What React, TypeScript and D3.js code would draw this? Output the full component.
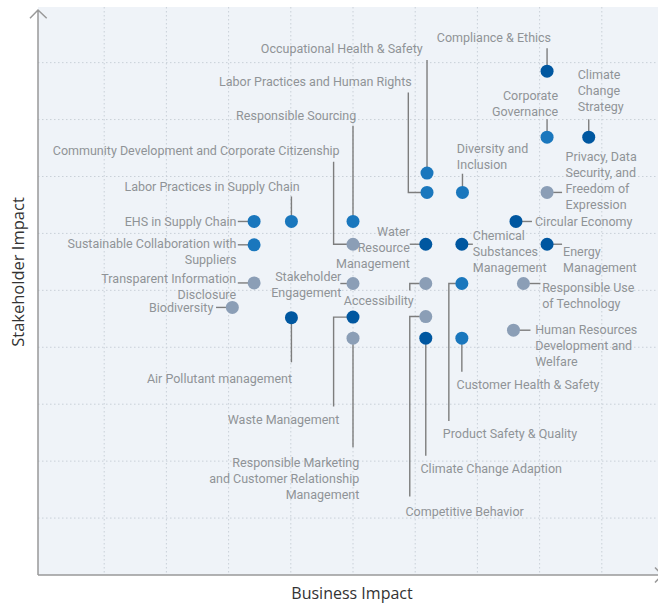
import React from 'react';
import * as d3 from 'd3';

// material topics
const topics = [
  'Compliance & Ethics', 'Climate Change Strategy', 'Corporate Governance',
  'Privacy, Data Security, and Freedom of Expression', 'Diversity and Inclusion',
  'Occupational Health & Safety', 'Labor Practices and Human Rights', 'Responsible Sourcing',
  'Community Development and Corporate Citizenship', 'Labor Practices in Supply Chain',
  'EHS in Supply Chain', 'Sustainable Collaboration with Suppliers',
  'Transparent Information Disclosure', 'Biodiversity', 'Air Pollutant management',
  'Stakeholder Engagement', 'Water Resource Management', 'Chemical Substances Management',
  'Circular Economy', 'Energy Management', 'Responsible Use of Technology',
  'Human Resources Development and Welfare', 'Accessibility', 'Product Safety & Quality',
  'Waste Management', 'Competitive Behavior',
  'Responsible Marketing and Customer Relationship Management',
  'Climate Change Adaption', 'Customer Health & Safety',
]
const businessImpact = [
  8.12, 8.79, 8.12, 8.12, 6.76, 6.19, 6.19, 5.0, 5.0, 4.01,
  3.41, 3.41, 3.41, 3.06, 4.01, 5.0, 6.17, 6.75, 7.62, 8.12,
  7.74, 7.58, 6.17, 6.75, 5.0, 6.17, 5.0, 6.17, 6.75,
]
const stakeholderImpact = [
  8.85, 7.69, 7.69, 6.72, 6.72, 7.06, 6.72, 6.21, 5.81, 6.21,
  6.21, 5.80, 5.13, 4.70, 4.52, 5.12, 5.81, 5.81, 6.21, 5.81,
  5.12, 4.30, 5.12, 5.12, 4.53, 4.54, 4.16, 4.16, 4.16,
]
// 0 = dark blue, 1 = blue, 2 = grey
const tier = [
  0, 0, 1, 2, 1, 1, 1, 1, 2, 1,
  1, 1, 2, 2, 0, 2, 0, 0, 0, 0,
  2, 2, 2, 1, 0, 2, 2, 0, 1,
]

const tierColors = ['#0057a0', '#1a77bd', '#8b9eb6']

// label placement, offsets from the dot in px
type Layout = { lines: string[]; anchor: string; dx: number; dy: number; leader: number[][] }
const layout: Record<string, Layout> = {
  'Compliance & Ethics': { lines: ['Compliance & Ethics'], anchor: 'end', dx: 4, dy: -34, leader: [[0, -23], [0, -6]] },
  'Climate Change Strategy': { lines: ['Climate', 'Change', 'Strategy'], anchor: 'start', dx: -11, dy: -63, leader: [[0, -18], [0, -6]] },
  'Corporate Governance': { lines: ['Corporate', 'Governance'], anchor: 'end', dx: 11, dy: -42, leader: [[0, -18], [0, -6]] },
  'Privacy, Data Security, and Freedom of Expression': { lines: ['Privacy, Data', 'Security, and', 'Freedom of', 'Expression'], anchor: 'start', dx: 18.5, dy: -36, leader: [[6, 0], [15, 0]] },
  'Diversity and Inclusion': { lines: ['Diversity and', 'Inclusion'], anchor: 'start', dx: -5.6, dy: -44.4, leader: [[0, -18.7], [0, -6]] },
  'Occupational Health & Safety': { lines: ['Occupational Health & Safety'], anchor: 'end', dx: -4.3, dy: -124.7, leader: [[0, -113], [0, -6]] },
  'Labor Practices and Human Rights': { lines: ['Labor Practices and Human Rights'], anchor: 'end', dx: -15.3, dy: -111, leader: [[-18.7, -100], [-18.7, 0], [-6, 0]] },
  'Responsible Sourcing': { lines: ['Responsible Sourcing'], anchor: 'end', dx: 3.3, dy: -106.7, leader: [[0, -95.7], [0, -6]] },
  'Community Development and Corporate Citizenship': { lines: ['Community Development and Corporate Citizenship'], anchor: 'end', dx: -13.4, dy: -94.3, leader: [[-19.4, -82.6], [-19.4, 0], [-6, 0]] },
  'Labor Practices in Supply Chain': { lines: ['Labor Practices in Supply Chain'], anchor: 'end', dx: 8.3, dy: -35, leader: [[0, -25], [0, -6]] },
  'EHS in Supply Chain': { lines: ['EHS in Supply Chain'], anchor: 'end', dx: -17.6, dy: 0, leader: [[-16.3, 0], [-6, 0]] },
  'Sustainable Collaboration with Suppliers': { lines: ['Sustainable Collaboration with', 'Suppliers'], anchor: 'end', dx: -17.6, dy: -1.4, leader: [[-16.3, 0], [-6, 0]] },
  'Transparent Information Disclosure': { lines: ['Transparent Information', 'Disclosure'], anchor: 'end', dx: -18, dy: -5.4, leader: [[-16.3, 0], [-6, 0]] },
  'Biodiversity': { lines: ['Biodiversity'], anchor: 'end', dx: -19, dy: 0, leader: [[-16.3, 0], [-6, 0]] },
  'Air Pollutant management': { lines: ['Air Pollutant management'], anchor: 'end', dx: 0.6, dy: 60.6, leader: [[0, 6], [0, 44.6]] },
  'Stakeholder Engagement': { lines: ['Stakeholder', 'Engagement'], anchor: 'end', dx: -11.7, dy: -7.3, leader: [[-12.7, 0], [-6, 0]] },
  'Water Resource Management': { lines: ['Water', 'Resource', 'Management'], anchor: 'end', dx: -16, dy: -13.6, leader: [[-16, 0], [-6, 0]] },
  'Chemical Substances Management': { lines: ['Chemical', 'Substances', 'Management'], anchor: 'start', dx: 11, dy: -9.3, leader: [[6, 0], [11, 0]] },
  'Circular Economy': { lines: ['Circular Economy'], anchor: 'start', dx: 19, dy: 0, leader: [[6, 0], [16, 0]] },
  'Energy Management': { lines: ['Energy', 'Management'], anchor: 'start', dx: 16, dy: 6.4, leader: [[6, 0], [15, 0]] },
  'Responsible Use of Technology': { lines: ['Responsible Use', 'of Technology'], anchor: 'start', dx: 18.7, dy: 3.4, leader: [[6, 0], [17, 0]] },
  'Human Resources Development and Welfare': { lines: ['Human Resources', 'Development and', 'Welfare'], anchor: 'start', dx: 21.7, dy: -1, leader: [[6, 0], [17, 0]] },
  'Accessibility': { lines: ['Accessibility'], anchor: 'end', dx: -12, dy: 16, leader: [[-16, 7], [-16, 0], [-6, 0]] },
  'Product Safety & Quality': { lines: ['Product Safety & Quality'], anchor: 'start', dx: -19, dy: 149.7, leader: [[-6, 0], [-13, 0], [-13, 137.4]] },
  'Waste Management': { lines: ['Waste Management'], anchor: 'end', dx: -13.7, dy: 101.7, leader: [[-6, 0], [-19.4, 0], [-19.4, 89.4]] },
  'Competitive Behavior': { lines: ['Competitive Behavior'], anchor: 'start', dx: -20.3, dy: 194.3, leader: [[-6, 0], [-16, 0], [-16, 180]] },
  'Responsible Marketing and Customer Relationship Management': { lines: ['Responsible Marketing', 'and Customer Relationship', 'Management'], anchor: 'end', dx: 6.3, dy: 123.7, leader: [[0, 6], [0, 109]] },
  'Climate Change Adaption': { lines: ['Climate Change Adaption'], anchor: 'start', dx: -5.3, dy: 129.4, leader: [[0, 6], [0, 117.7]] },
  'Customer Health & Safety': { lines: ['Customer Health & Safety'], anchor: 'start', dx: -5.3, dy: 45.7, leader: [[0, 6], [0, 33.7]] },
}

const W = 658
const H = 604
const font = 'Roboto, "Noto Sans", sans-serif'

export default function App() {
  const x = d3.scaleLinear().domain([0, 10]).range([42, 664])
  const y = d3.scaleLinear().domain([0, 10]).range([575, 5.7])
  const left = 38
  const bottom = y(0)
  const top = 7
  const line = d3.line()

  return (
    <svg width={W} height={H} style={{ position: 'absolute', left: 0, top: 0 }} fontFamily={font}>
      <rect x={left} y={top} width={W - left} height={bottom - top} fill="#eff3f8" />
      {d3.range(1, 10).map(t => (
        <line key={'gx' + t} x1={x(t)} x2={x(t)} y1={top} y2={bottom}
          stroke="#c9d0d8" strokeWidth={1} strokeDasharray="1.5,2.5" />
      ))}
      {d3.range(1, 10).map(t => (
        <line key={'gy' + t} x1={left} x2={W} y1={y(t)} y2={y(t)}
          stroke="#c9d0d8" strokeWidth={1} strokeDasharray="1.5,2.5" />
      ))}

      {/* axes with open arrow heads */}
      <path d={`M${left},${bottom}V10M30,18.3L${left},10L46.7,18.3`} fill="none" stroke="#999" strokeWidth={1.5} />
      <path d={`M${left},${bottom}H662M655,567.5L662,${bottom}L655,582.5`} fill="none" stroke="#999" strokeWidth={1.5} />

      {topics.map((name, i) => {
        const cx = x(businessImpact[i])
        const cy = y(stakeholderImpact[i])
        const l = layout[name]
        const pts = l.leader.map(p => [cx + p[0], cy + p[1]] as [number, number])
        return (
          <g key={name}>
            <path d={line(pts) || ''} fill="none" stroke="#7d7d7d" strokeWidth={1.4} />
            <text x={cx + l.dx} y={cy + l.dy} textAnchor={l.anchor} fontSize={12.5} fill="#8f9397"
              dominantBaseline="central">
              {l.lines.map((s, k) => (
                <tspan key={k} x={cx + l.dx} dy={k === 0 ? 0 : 16}>{s}</tspan>
              ))}
            </text>
          </g>
        )
      })}
      {topics.map((name, i) => (
        <circle key={'c' + name} cx={x(businessImpact[i])} cy={y(stakeholderImpact[i])} r={6.5} fill={tierColors[tier[i]]} />
      ))}

      <text x={352} y={593} textAnchor="middle" dominantBaseline="central" fontSize={16} fill="#333" fontFamily='"Open Sans", sans-serif'>Business Impact</text>
      <text transform="translate(17,272) rotate(-90)" textAnchor="middle" dominantBaseline="central" fontSize={16.5} fill="#333" fontFamily='"Open Sans", sans-serif'>Stakeholder Impact</text>
    </svg>
  )
}
